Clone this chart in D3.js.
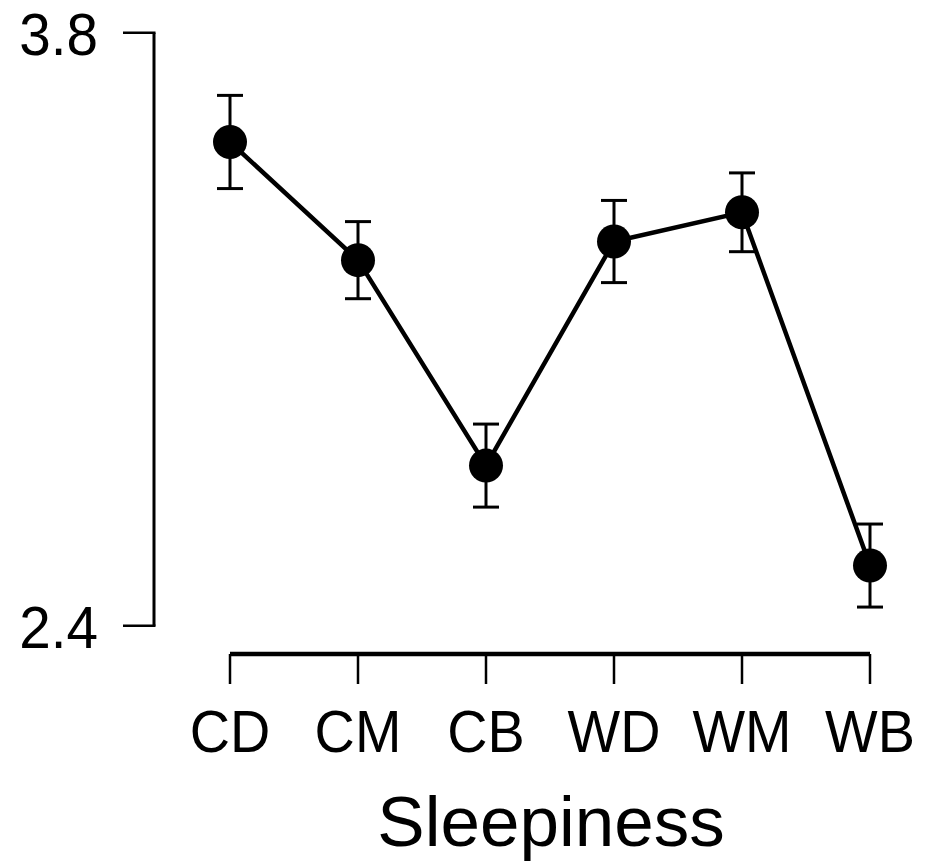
<!DOCTYPE html>
<html lang="en">
  <head>
    <meta charset="UTF-8" />
    <title>Sleepiness</title>
    <style>
      body { margin: 0; background: #fff; }
      svg { display: block; font-family: "Liberation Sans", Arial, sans-serif; }
    </style>
  </head>
  <body>
    <svg width="925" height="865"></svg>

    <script src="https://d3js.org/d3.v7.min.js"></script>
    <script>
      const categories = ["CD", "CM", "CB", "WD", "WM", "WB"];
      const means = [3.542, 3.263, 2.778, 3.307, 3.376, 2.542];
      const errors = [0.110, 0.091, 0.098, 0.097, 0.093, 0.098];
      const yTicks = [2.4, 3.8];
      const xTitle = "Sleepiness";

      const data = categories.map((c, i) => ({ cat: c, mean: means[i], err: errors[i] }));

      const svg = d3.select("svg");

      const x = d3.scalePoint().domain(categories).range([230, 870]);
      const y = d3.scaleLinear().domain([2.4, 3.8]).range([625.7, 32.7]);

      // Y axis (R style: line only across the tick range)
      const yAxis = svg.append("g").attr("transform", "translate(154,0)");
      yAxis.append("line")
        .attr("y1", y(yTicks[0])).attr("y2", y(yTicks[yTicks.length - 1]))
        .attr("stroke", "#000").attr("stroke-width", 3);
      yAxis.selectAll(".tick").data(yTicks).enter().append("line")
        .attr("x1", 1.5).attr("x2", -31)
        .attr("y1", d => y(d)).attr("y2", d => y(d))
        .attr("stroke", "#000").attr("stroke-width", 2.5);
      yAxis.selectAll(".lab").data(yTicks).enter().append("text")
        .attr("transform", d => `translate(-56,${y(d) + 22}) scale(0.96,1)`)
        .attr("text-anchor", "end")
        .attr("font-size", 59)
        .text(d => d3.format(".1f")(d));

      // X axis
      const xAxis = svg.append("g").attr("transform", "translate(0,654)");
      xAxis.append("line")
        .attr("x1", x(categories[0])).attr("x2", x(categories[categories.length - 1]))
        .attr("stroke", "#000").attr("stroke-width", 4.5);
      xAxis.selectAll(".tick").data(categories).enter().append("line")
        .attr("x1", d => x(d)).attr("x2", d => x(d))
        .attr("y1", 0).attr("y2", 30)
        .attr("stroke", "#000").attr("stroke-width", 2.5);
      xAxis.selectAll(".lab").data(categories).enter().append("text")
        .attr("transform", d => `translate(${x(d)},98) scale(0.93,1)`)
        .attr("text-anchor", "middle")
        .attr("font-size", 60)
        .text(d => d);

      svg.append("text")
        .attr("x", 551).attr("y", 846)
        .attr("text-anchor", "middle")
        .attr("font-size", 71)
        .text(xTitle);

      // Error bars
      const eb = svg.append("g").attr("stroke", "#000").attr("stroke-width", 3);
      eb.selectAll(".v").data(data).enter().append("line")
        .attr("x1", d => x(d.cat)).attr("x2", d => x(d.cat))
        .attr("y1", d => y(d.mean + d.err)).attr("y2", d => y(d.mean - d.err));
      eb.selectAll(".top").data(data).enter().append("line")
        .attr("x1", d => x(d.cat) - 13).attr("x2", d => x(d.cat) + 13)
        .attr("y1", d => y(d.mean + d.err)).attr("y2", d => y(d.mean + d.err));
      eb.selectAll(".bot").data(data).enter().append("line")
        .attr("x1", d => x(d.cat) - 13).attr("x2", d => x(d.cat) + 13)
        .attr("y1", d => y(d.mean - d.err)).attr("y2", d => y(d.mean - d.err));

      // Line and points
      svg.append("path")
        .datum(data)
        .attr("fill", "none")
        .attr("stroke", "#000")
        .attr("stroke-width", 4.5)
        .attr("d", d3.line().x(d => x(d.cat)).y(d => y(d.mean)));

      svg.selectAll(".dot").data(data).enter().append("circle")
        .attr("cx", d => x(d.cat))
        .attr("cy", d => y(d.mean))
        .attr("r", 17)
        .attr("fill", "#000");
    </script>
  </body>
</html>
